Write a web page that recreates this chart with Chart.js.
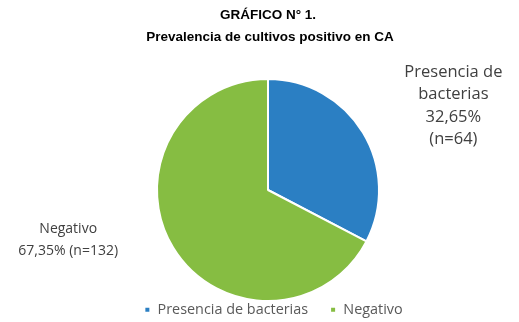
<!DOCTYPE html>
<html><head><meta charset="utf-8">
<script src="https://cdn.jsdelivr.net/npm/chart.js@4/dist/chart.umd.min.js"></script>
<style>html,body{margin:0;padding:0;background:#fff}#wrap{width:519px;height:322px}</style>
</head><body><div id="wrap"><canvas id="c"></canvas></div>
<script>
const titleLines = ["GRÁFICO N° 1.", "Prevalencia de cultivos positivo en CA"];
const categories = ["Presencia de bacterias", "Negativo"];
const counts = [64, 132];
const percents = ["32,65%", "67,35%"];
const colors = ["#2b7fc3", "#86bd42"];

const labelPlugin = {
  id: 'extLabels',
  afterLayout(chart) {
    const ca = chart.chartArea;
    ca.left = 156; ca.right = 380; ca.top = 78; ca.bottom = 302;
    ca.width = ca.right - ca.left; ca.height = ca.bottom - ca.top;
  },
  afterDraw(chart) {
    const ctx = chart.ctx;
    const meta = chart.getDatasetMeta(0);
    ctx.save();
    ctx.fillStyle = '#000';
    ctx.textAlign = 'center';
    ctx.textBaseline = 'middle';
    ctx.font = 'bold 13.5px "Liberation Sans", Arial, sans-serif';
    ctx.fillText(titleLines[0], 268, 15);
    ctx.fillText(titleLines[1], 270, 37);
    ctx.restore();
    const a0 = meta.data[0], a1 = meta.data[1];
    ctx.save();
    ctx.fillStyle = '#404040';
    ctx.textAlign = 'center';
    ctx.textBaseline = 'middle';
    ctx.font = '16.5px "Open Sans", sans-serif';
    const rx = a0.x + a0.outerRadius * 1.67, ry = a0.y - a0.outerRadius * 1.06;
    const lines0 = ["Presencia de", "bacterias", percents[0], "(n=" + counts[0] + ")"];
    lines0.forEach((t, i) => ctx.fillText(t, rx, ry + i * 22.3));
    ctx.font = '14px "Open Sans", sans-serif';
    const lx = a1.x - a1.outerRadius * 1.8, ly = a1.y + a1.outerRadius * 0.35;
    const lines1 = ["Negativo", percents[1] + " (n=" + counts[1] + ")"];
    lines1.forEach((t, i) => ctx.fillText(t, lx, ly + i * 22));
    ctx.restore();
  }
};

new Chart(document.getElementById('c'), {
  type: 'pie',
  data: {
    labels: categories,
    datasets: [{ data: counts, backgroundColor: colors, borderColor: '#fff', borderWidth: 2, hoverOffset: 0 }]
  },
  options: {
    responsive: true, maintainAspectRatio: false, animation: false,
    layout: { padding: { top: 77, left: 28, right: 0, bottom: -5 } },
    plugins: {
      title: { display: false },
      tooltip: { enabled: false },
      legend: {
        position: 'bottom',
        labels: { boxWidth: 6, boxHeight: 6, color: '#595959', padding: 22,
          font: { family: '"Open Sans", sans-serif', size: 14.4 } }
      }
    }
  },
  plugins: [labelPlugin]
});
</script></body></html>
